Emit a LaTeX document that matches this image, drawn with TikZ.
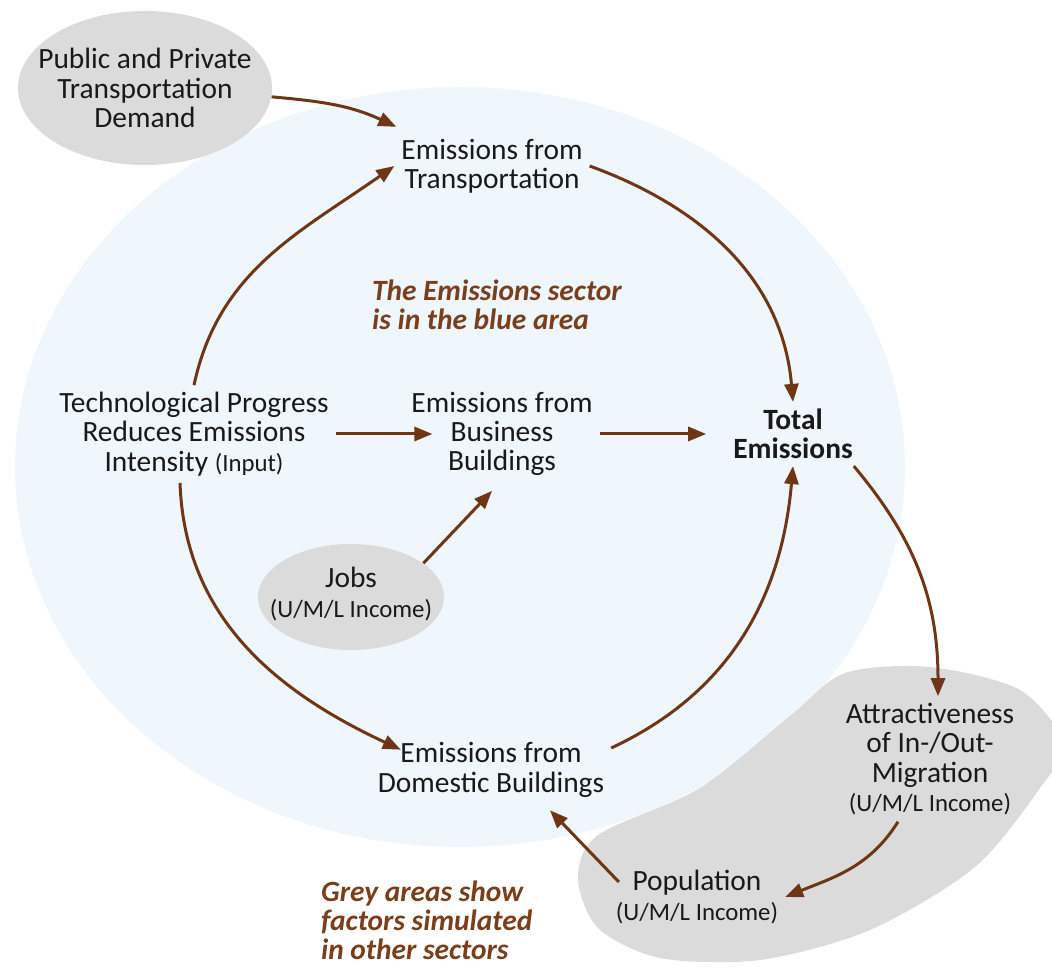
\documentclass[tikz,border=0pt]{standalone}
\usepackage{fontspec}
\setmainfont{Carlito}
\usetikzlibrary{arrows.meta,calc,shapes.geometric}
\definecolor{seablue}{RGB}{239,246,252}
\definecolor{greyarea}{RGB}{219,219,219}
\definecolor{arrowbrown}{RGB}{110,54,20}
\definecolor{notebrown}{RGB}{122,62,26}
\newcommand{\inc}[1]{{\fontsize{12.4}{13}\selectfont #1}}

\begin{document}
\begin{tikzpicture}[x=0.5pt, y=0.5pt,
                        plain/.style = {align=center, text=black!90, font=\fontsize{14.7}{14.6}\selectfont},
                        blob/.style = {ellipse, fill=greyarea, inner sep=0pt},
                        note/.style = {align=left, anchor=west, text=notebrown, font=\fontsize{14.7}{14.6}\selectfont\bfseries\itshape},
                        link/.style = {draw=arrowbrown, line width=1.5pt, -{Triangle[length=9pt,width=7pt]}}]
      \useasboundingbox (0,0) rectangle (1052,968);

      % areas
      \fill[seablue] (460,501) ellipse [x radius=445, y radius=380];
      \begin{scope}
        \clip (0,0) rectangle (1052,968);
        \fill[greyarea] plot[smooth cycle] coordinates {(845,295) (930,301) (1020,278) (1063,225) (1040,180)
          (975,101) (870,38) (760,8) (660,10) (598,40) (578,90) (598,133) (700,180) (790,252)};
      \end{scope}
      \node [blob, minimum width=127pt, minimum height=77pt] (pub) at (145,880){};
      \node [blob, minimum width=93pt, minimum height=53pt] (jobs) at (351,371){};

      \node [plain] (pubtext) at (pub) {Public and Private\\Transportation\\Demand};
      \node [plain] (jobstext) at (351,374) {Jobs\\\inc{(U/M/L Income)}};
      \node [plain] (transp) at (492,802) {Emissions from\\Transportation};
      \node [note] (sectornote) at (365,663) {The Emissions sector\\is in the blue area};
      \node [plain] (tech) at (194,534) {Technological Progress\\Reduces Emissions\\Intensity \inc{(Input)}};
      \node [plain] (bus) at (502,534) {Emissions from\\Business\\Buildings};
      \node [plain, font=\fontsize{14.7}{14.6}\selectfont\bfseries] (total) at (793,534) {Total\\Emissions};
      \node [plain] (dom) at (491,198) {Emissions from\\Domestic Buildings};
      \node [plain] (attr) at (930,209) {Attractiveness\\of In-/Out-\\Migration\\\inc{(U/M/L Income)}};
      \node [plain] (pop) at (697,71) {Population\\\inc{(U/M/L Income)}};
      \node [note] (greynote) at (314,48) {Grey areas show\\factors simulated\\in other sectors};

      \draw [link] (pub.-4) to[out=-5, in=155] ($(transp.north west)+(2,5)$);
      \draw [link] (tech.north) to[out=78, in=215] (transp.west);
      \draw [link] (transp.east) to[out=-20, in=95] (total.north);
      \draw [link, shorten >=-14pt] (tech.east) -- (bus.west);
      \draw [link, shorten >=10pt] (bus.east) -- (total.west);
      \draw [link] (jobs.25) -- ($(bus.south)+(-10,-8)$);
      \draw [link] ($(tech.south)+(-14,0)$) to[out=-88, in=155] ($(dom.north west)+(30,-14)$);
      \draw [link] ($(dom.east)+(0,22)$) to[out=25, in=-95] (total.south);
      \draw [link] ($(total.south east)+(-6,0)$) to[out=-50, in=90] ($(attr.north)+(8,0)$);
      \draw [link] ($(attr.south)+(-32,0)$) to[out=-122, in=22] (pop.east);
      \draw [link] ($(pop.west)+(10,15)$) -- ($(dom.south)+(59,-6)$);

      \end{tikzpicture}
\end{document}
